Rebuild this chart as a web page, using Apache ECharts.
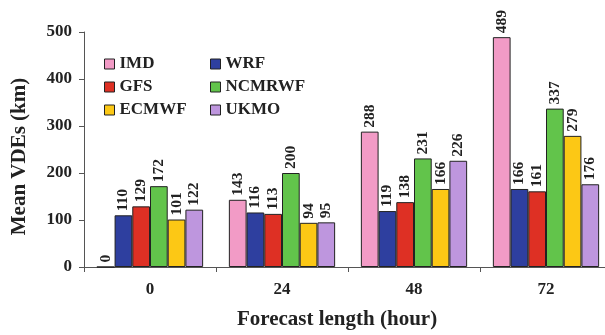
<!DOCTYPE html>
<html><head><meta charset="utf-8">
<script src="https://cdn.jsdelivr.net/npm/echarts@6/dist/echarts.min.js"></script>
<style>html,body{margin:0;padding:0;background:#fff}#wrap{width:605px;height:335px;overflow:hidden;position:relative}#c{position:absolute;left:0;top:0;width:612px;height:335px}</style>
</head><body><div id="wrap"><div id="c"></div></div>
<script>
const categories = ['0', '24', '48', '72'];
const seriesNames = ['IMD', 'WRF', 'GFS', 'NCMRWF', 'ECMWF', 'UKMO'];
const IMD = [0, 143, 288, 489];
const WRF = [110, 116, 119, 166];
const GFS = [129, 113, 138, 161];
const NCMRWF = [172, 200, 231, 337];
const ECMWF = [101, 94, 166, 279];
const UKMO = [122, 95, 226, 176];
const yTicks = [0, 100, 200, 300, 400, 500];

const colors = ['#F29BC6', '#2E3F9F', '#DE3024', '#62C44B', '#FCC815', '#BE96DE'];
const values = [IMD, WRF, GFS, NCMRWF, ECMWF, UKMO];
const font = '"Liberation Serif", "DejaVu Serif", serif';

const chart = echarts.init(document.getElementById('c'));
const series = seriesNames.map((n, i) => ({
  name: n, type: 'bar', data: values[i],
  barGap: '0%', barCategoryGap: '19.5%',
  itemStyle: { color: colors[i], borderColor: '#222', borderWidth: 1 },
  label: { show: true, position: 'top', rotate: 90, align: 'left', verticalAlign: 'middle', distance: 4,
           fontFamily: font, fontWeight: 'bold', fontSize: 15.5, color: '#222' }
}));
const legendCommon = {
  orient: 'vertical', itemWidth: 10, itemHeight: 10, itemGap: 5, icon: 'rect',
  textStyle: { fontFamily: font, fontWeight: 'bold', fontSize: 17, lineHeight: 18, color: '#222' },
  itemStyle: { borderColor: '#222', borderWidth: 1 }
};
chart.setOption({
  animation: false,
  color: colors,
  legend: [
    Object.assign({ left: 99, top: 50, data: ['IMD', 'GFS', 'ECMWF'] }, legendCommon),
    Object.assign({ left: 205, top: 50, data: ['WRF', 'NCMRWF', 'UKMO'] }, legendCommon)
  ],
  grid: { left: 84, right: 0, top: 32, bottom: 67, containLabel: false },
  xAxis: {
    type: 'category', data: categories,
    name: 'Forecast length (hour)', nameLocation: 'middle', nameGap: 42,
    nameTextStyle: { fontFamily: font, fontWeight: 'bold', fontSize: 21, color: '#222', padding: [0, 22, 0, 0] },
    axisLine: { lineStyle: { color: '#555', width: 1 } },
    axisTick: { show: true, length: 5, lineStyle: { color: '#555' } },
    axisLabel: { fontFamily: font, fontWeight: 'bold', fontSize: 17, color: '#222', margin: 14 }
  },
  yAxis: {
    type: 'value', min: yTicks[0], max: yTicks[yTicks.length - 1], interval: 100,
    name: 'Mean VDEs (km)', nameLocation: 'middle', nameGap: 54,
    nameTextStyle: { fontFamily: font, fontWeight: 'bold', fontSize: 21, color: '#222', padding: [0, 14, 0, 0] },
    axisLine: { show: true, lineStyle: { color: '#555', width: 1 } },
    axisTick: { show: true, length: 5, lineStyle: { color: '#555' } },
    splitLine: { show: false },
    axisLabel: { fontFamily: font, fontWeight: 'bold', fontSize: 17, color: '#222', margin: 12 }
  },
  series: series
});
</script></body></html>
